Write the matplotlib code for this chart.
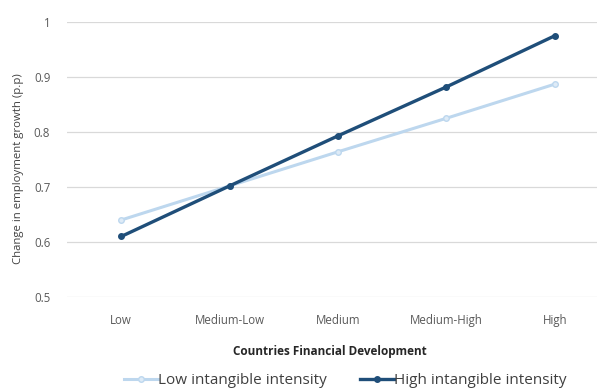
import matplotlib.pyplot as plt
from matplotlib.lines import Line2D

# --- data ---
categories = ["Low", "Medium-Low", "Medium", "Medium-High", "High"]
low_intensity = [0.640, 0.702, 0.764, 0.825, 0.887]
high_intensity = [0.610, 0.702, 0.793, 0.882, 0.975]
y_ticks = [0.5, 0.6, 0.7, 0.8, 0.9, 1.0]
y_tick_labels = ["0.5", "0.6", "0.7", "0.8", "0.9", "1"]

light = "#bdd7ee"
dark = "#1f4e79"
grey_text = "#595959"

plt.rcParams["font.family"] = ["Open Sans", "DejaVu Sans"]

fig = plt.figure(figsize=(5.97, 3.9), dpi=100)
# axes spill a bit past the right edge, like the cropped original
ax = fig.add_axes([67 / 597, 93 / 390, 542 / 597, 275 / 390])

x = range(len(categories))
ax.plot(x, low_intensity, color=light, lw=2.2, marker="o", ms=4,
        mfc="#deebf7", mec=light, zorder=3)
ax.plot(x, high_intensity, color=dark, lw=2.4, marker="o", ms=4,
        mfc=dark, mec=dark, zorder=4)

ax.set_xlim(-0.5, len(categories) - 0.5)
ax.set_ylim(0.5, 1.0)
ax.set_yticks(y_ticks)
ax.set_yticklabels(y_tick_labels)
ax.set_xticks(list(x))
ax.set_xticklabels(categories)
ax.tick_params(axis="both", length=0, labelsize=8.3, colors=grey_text)
ax.tick_params(axis="x", pad=12)
ax.tick_params(axis="y", pad=12)
ax.grid(axis="y", color="#d9d9d9", lw=0.9)
ax.set_axisbelow(True)
for s in ax.spines.values():
    s.set_visible(False)

ax.set_ylabel("Change in employment growth (p.p)", fontsize=8.2,
              color="#404040")
ax.yaxis.set_label_coords(-0.08, 0.465)
fig.text(330 / 597, 1 - 352 / 390, "Countries Financial Development",
         ha="center", va="center", fontsize=8.5, fontweight="bold",
         color="#262626")

handles = [
    Line2D([], [], color=light, lw=2.2, marker="o", ms=4, mfc="#deebf7", mec=light),
    Line2D([], [], color=dark, lw=2.4, marker="o", ms=4, mfc=dark, mec=dark),
]
fig.legend(handles, ["Low intangible intensity", "High intangible intensity"],
           loc="center", bbox_to_anchor=(345 / 597, 1 - 381 / 390), ncol=2,
           frameon=False, fontsize=11, handlelength=2.2, handletextpad=0.0,
           columnspacing=2.2, labelcolor="#404040")

fig.savefig("out.png", dpi=100)
